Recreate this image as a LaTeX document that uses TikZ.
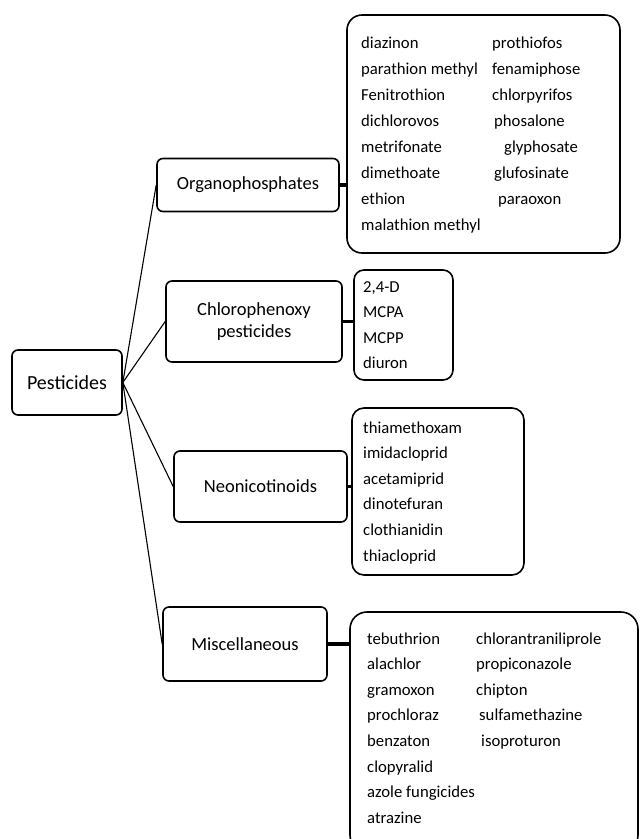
\documentclass[tikz,border=0pt]{standalone}
\usepackage{fontspec}
\setmainfont{Carlito}
\usetikzlibrary{calc}

\begin{document}
\begin{tikzpicture}[x=1pt, y=-1pt,
    catbox/.style={draw, line width=1.6pt, rounded corners=6pt, align=center, inner sep=0pt,
      font=\fontsize{18.5}{22}\selectfont},
    listbox/.style={draw, line width=1.6pt, inner sep=0pt},
    item/.style={anchor=base west, inner sep=0pt, font=\fontsize{16.7}{20}\selectfont},
    branch/.style={line width=1.1pt},
    stem/.style={line width=3.2pt}]

	\useasboundingbox (0,0) rectangle (641,839);
	\clip (0,0) rectangle (641,839);

	% root and categories
	\node[catbox, minimum width=110pt, minimum height=65pt, font=\fontsize{20}{24}\selectfont] (root) at (67,382.5) {Pesticides};
	\node[catbox, minimum width=182pt, minimum height=53pt] (organo) at (248,185) {Organophosphates};
	\node[catbox, minimum width=176pt, minimum height=81pt] (chloro) at (254,321.5) {Chlorophenoxy\\pesticides};
	\node[catbox, minimum width=173pt, minimum height=71pt] (neonic) at (260.5,486.5) {Neonicotinoids};
	\node[catbox, minimum width=164pt, minimum height=74pt] (misc) at (245,644) {Miscellaneous};

	% compound lists
	\node[listbox, rounded corners=15pt, minimum width=273pt, minimum height=238pt] (organolist) at (483.5,134) {};
	\node[listbox, rounded corners=10pt, minimum width=99pt, minimum height=110pt] (chlorolist) at (403.5,325) {};
	\node[listbox, rounded corners=12pt, minimum width=172pt, minimum height=167pt] (neoniclist) at (438,491.5) {};
	\node[listbox, rounded corners=17pt, minimum width=288pt, minimum height=240pt] (misclist) at (494,732) {};

	% branches
	\foreach \c in {organo,chloro,neonic,misc}
		\draw[branch] (root.east) -- (\c.west);
	\foreach \c in {organo,chloro,neonic,misc}
		\draw[stem] (\c.east) -- (\c.east -| \c list.west);

	% items
	\foreach \t [count=\i from 0] in {diazinon, parathion methyl, Fenitrothion, dichlorovos, metrifonate, dimethoate, ethion, malathion methyl}
		\node[item] (organoA\i) at (361,48+26*\i) {\t};
	\foreach \t/\x [count=\i from 0] in {prothiofos/492, fenamiphose/492, chlorpyrifos/492, phosalone/494, glyphosate/504, glufosinate/494, paraoxon/498}
		\node[item] (organoB\i) at (\x,48+26*\i) {\t};
	\foreach \t [count=\i from 0] in {{2,4-D}, MCPA, MCPP, diuron}
		\node[item] (chloroA\i) at (363,292+25.5*\i) {\t};
	\foreach \t [count=\i from 0] in {thiamethoxam, imidacloprid, acetamiprid, dinotefuran, clothianidin, thiacloprid}
		\node[item] (neonicA\i) at (363,433+25.6*\i) {\t};
	\foreach \t [count=\i from 0] in {tebuthrion, alachlor, gramoxon, prochloraz, benzaton, clopyralid, azole fungicides, atrazine}
		\node[item] (miscA\i) at (367,644+25.6*\i) {\t};
	\foreach \t/\x [count=\i from 0] in {chlorantraniliprole/476, propiconazole/476, chipton/476, sulfamethazine/479, isoproturon/481}
		\node[item] (miscB\i) at (\x,644+25.6*\i) {\t};
\end{tikzpicture}
\end{document}
